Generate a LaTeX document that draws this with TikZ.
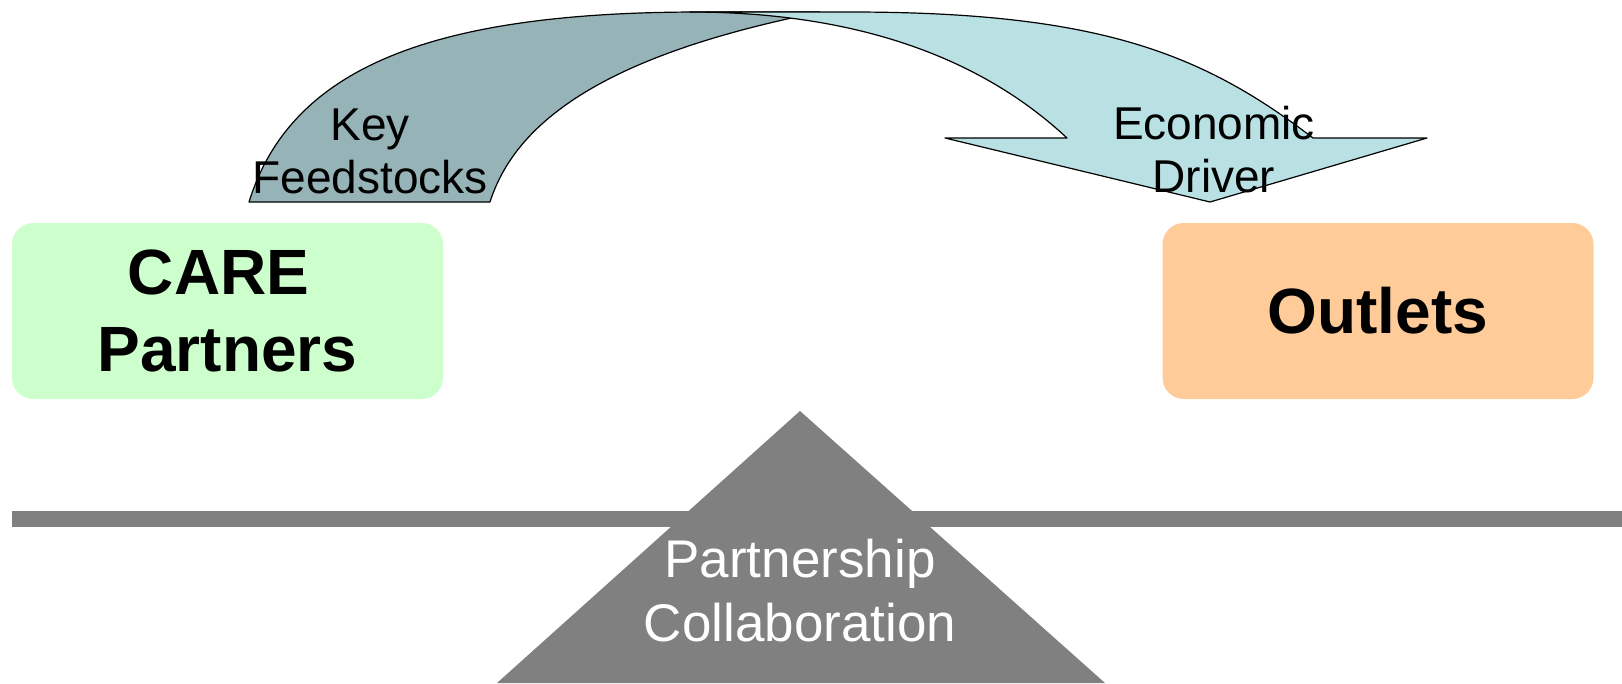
\documentclass[tikz,border=0pt]{standalone}
\usepackage{fontspec}
\setmainfont{Liberation Sans}
\usepackage{xcolor}

\definecolor{careGreen}{RGB}{204,255,204}
\definecolor{outletOrange}{RGB}{255,204,153}
\definecolor{bandDark}{RGB}{150,179,183}
\definecolor{bandLight}{RGB}{185,224,227}
\definecolor{baseGray}{RGB}{128,128,128}

\tikzset{
  partybox/.style={rounded corners=16pt, inner sep=0pt, minimum width=323.25pt,
    minimum height=132pt, align=center, font=\fontsize{48}{57.75}\selectfont\bfseries},
  arrowlabel/.style={anchor=base, align=center, inner sep=0pt,
    font=\fontsize{34.5}{39.75}\selectfont},
  bandline/.style={draw=black, line width=0.9pt, line join=round}
}

\begin{document}
\begin{tikzpicture}[x=0.75pt,y=0.75pt,yscale=-1,xscale=1]
      \useasboundingbox (0,0) rectangle (1622,683);

      %Shape: Curved Arrow (back part)
      \draw[bandline, fill=bandDark] (249,202) .. controls (291,67) and (433,12) .. (700,12) -- (820,12) .. controls (620,52) and (518,114) .. (490,202) -- cycle ;
      %Shape: Curved Arrow (front part)
      \draw[bandline, fill=bandLight] (690,12) -- (850,12) .. controls (1098,12) and (1202,53) .. (1313,138) -- (1427,138) -- (1210,202) -- (945,138) -- (1067,138) .. controls (1009,84) and (899,12) .. (690,12) -- cycle ;

      %Shape: Fulcrum
      \fill[baseGray] (12,511) rectangle (1622,527) ;
      \fill[baseGray] (800,411) -- (1105,683) -- (497,683) -- cycle ;

      % Boxes
      \node[partybox, fill=careGreen] (care) at (227.5,311) {CARE\hphantom{\ }\\Partners};
      \node[partybox, fill=outletOrange] (outlets) at (1378,311) {Outlets};

      % Text Node
      \node[arrowlabel] (feedstocks) at (370,193) {Key\\Feedstocks};
      % Text Node
      \node[arrowlabel] (driver) at (1214,192) {Economic\\Driver};
      % Text Node
      \node[anchor=base, align=center, inner sep=0pt, text=white,
        font=\fontsize{39.75}{48}\selectfont] (collab) at (800,641) {Partnership\\Collaboration};
\end{tikzpicture}
\end{document}
